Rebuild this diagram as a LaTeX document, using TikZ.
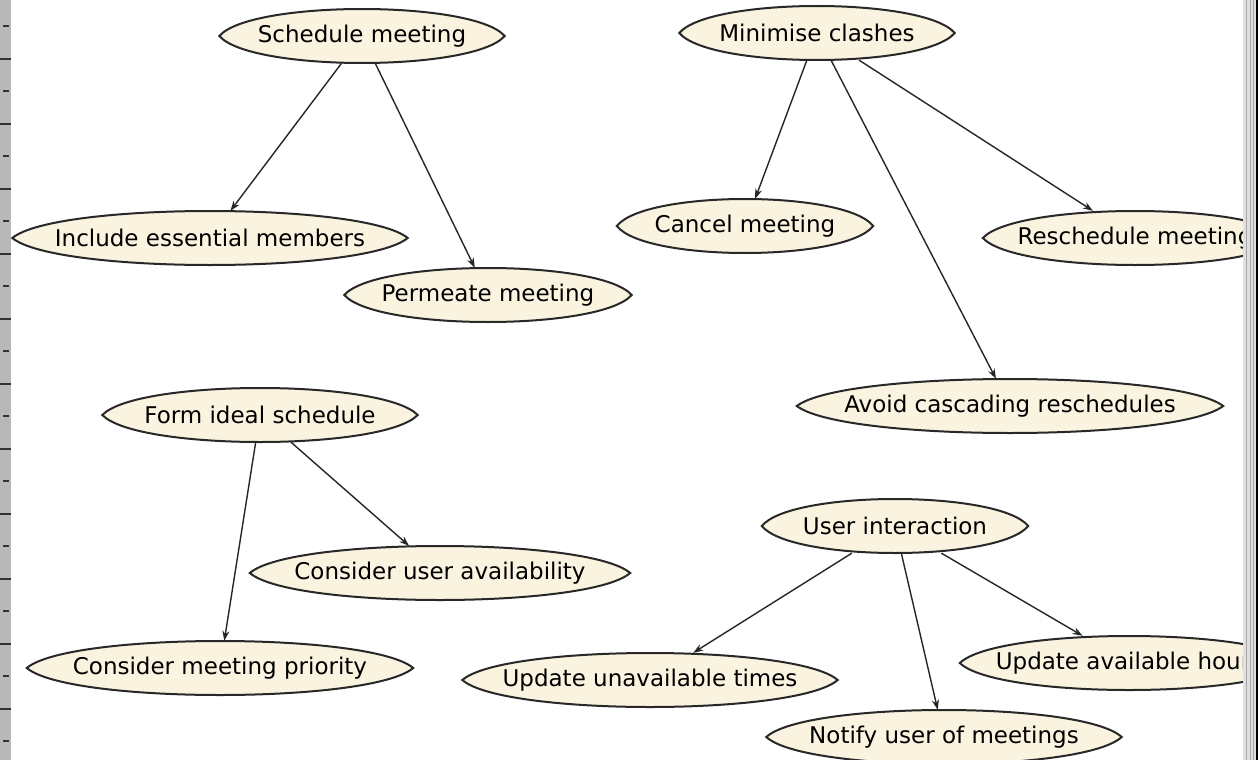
\documentclass[tikz,border=0pt]{standalone}
\usepackage{fontspec}
\setmainfont{DejaVu Sans}
\usetikzlibrary{arrows.meta,calc,backgrounds}
\definecolor{goalfill}{RGB}{250,243,224}
\definecolor{goalline}{RGB}{40,40,40}
\tikzset{
  goal/.style={rectangle, inner sep=0pt, minimum height=54pt, font=\fontsize{23}{27}\selectfont},
  lens/.style={fill=goalfill, draw=goalline, line width=2pt},
  link/.style={-{Stealth[length=10pt,width=7pt]}, line width=1.4pt, draw=black!85},
  tick/.style={line width=1.6pt, black!80}
}
\begin{document}
\begin{tikzpicture}[x=1pt,y=-1pt]
\useasboundingbox (0,0) rectangle (1258,760);
\node[goal, minimum width=285pt] (sched)   at (362,36)   {Schedule meeting};
\node[goal, minimum width=395pt] (incl)    at (210,238)  {Include essential members};
\node[goal, minimum width=287pt] (perm)    at (488,295)  {Permeate meeting};
\node[goal, minimum width=275pt] (minim)   at (817,33)   {Minimise clashes};
\node[goal, minimum width=256pt] (cancel)  at (745,226)  {Cancel meeting};
\node[goal, minimum width=304pt] (resch)   at (1135,238) {Reschedule meeting};
\node[goal, minimum width=426pt] (avoid)   at (1010,406) {Avoid cascading reschedules};
\node[goal, minimum width=315pt] (form)    at (260,415)  {Form ideal schedule};
\node[goal, minimum width=380pt] (cuavail) at (440,573)  {Consider user availability};
\node[goal, minimum width=386pt] (cprio)   at (220,668)  {Consider meeting priority};
\node[goal, minimum width=266pt] (ui)      at (895,526)  {User interaction};
\node[goal, minimum width=375pt] (uunav)   at (650,680)  {Update unavailable times};
\node[goal, minimum width=338pt] (uavail)  at (1129,663) {Update available hours};
\node[goal, minimum width=355pt] (notify)  at (944,737)  {Notify user of meetings};

\begin{scope}[on background layer]
\fill[white] (0,0) rectangle (1258,760);
\foreach \n in {sched,incl,perm,minim,cancel,resch,avoid,form,cuavail,cprio,ui,uunav,uavail,notify}
  \draw[lens] (\n.west) .. controls ($(\n.west)!.11!(\n.east)+(0,-36)$) and ($(\n.east)!.11!(\n.west)+(0,-36)$) .. (\n.east)
    .. controls ($(\n.east)!.11!(\n.west)+(0,36)$) and ($(\n.west)!.11!(\n.east)+(0,36)$) .. cycle;
\end{scope}

\draw[link] (sched) -- (incl);
\draw[link] (sched) -- (perm);
\draw[link] (minim) -- (cancel);
\draw[link] (minim) -- (avoid);
\draw[link] (minim) -- (resch);
\draw[link] (form) -- (cprio);
\draw[link] (form) -- (cuavail);
\draw[link] (ui) -- (uunav);
\draw[link] (ui) -- (notify);
\draw[link] (ui) -- (uavail);

\fill[black!12] (1243,0) rectangle (1258,760);
\foreach \x in {1246,1250,1253}
  \draw[black!35, line width=1pt] (\x,0) -- (\x,760);
\draw[black, line width=1.5pt] (1257.2,0) -- (1257.2,760);

\fill[black!28] (0,0) rectangle (11,760);
\foreach \y in {26,91,...,760}
  \draw[tick] (3,\y) -- (9,\y);
\foreach \y in {59,124,...,760}
  \draw[tick] (0,\y) -- (11,\y);
\end{tikzpicture}
\end{document}
